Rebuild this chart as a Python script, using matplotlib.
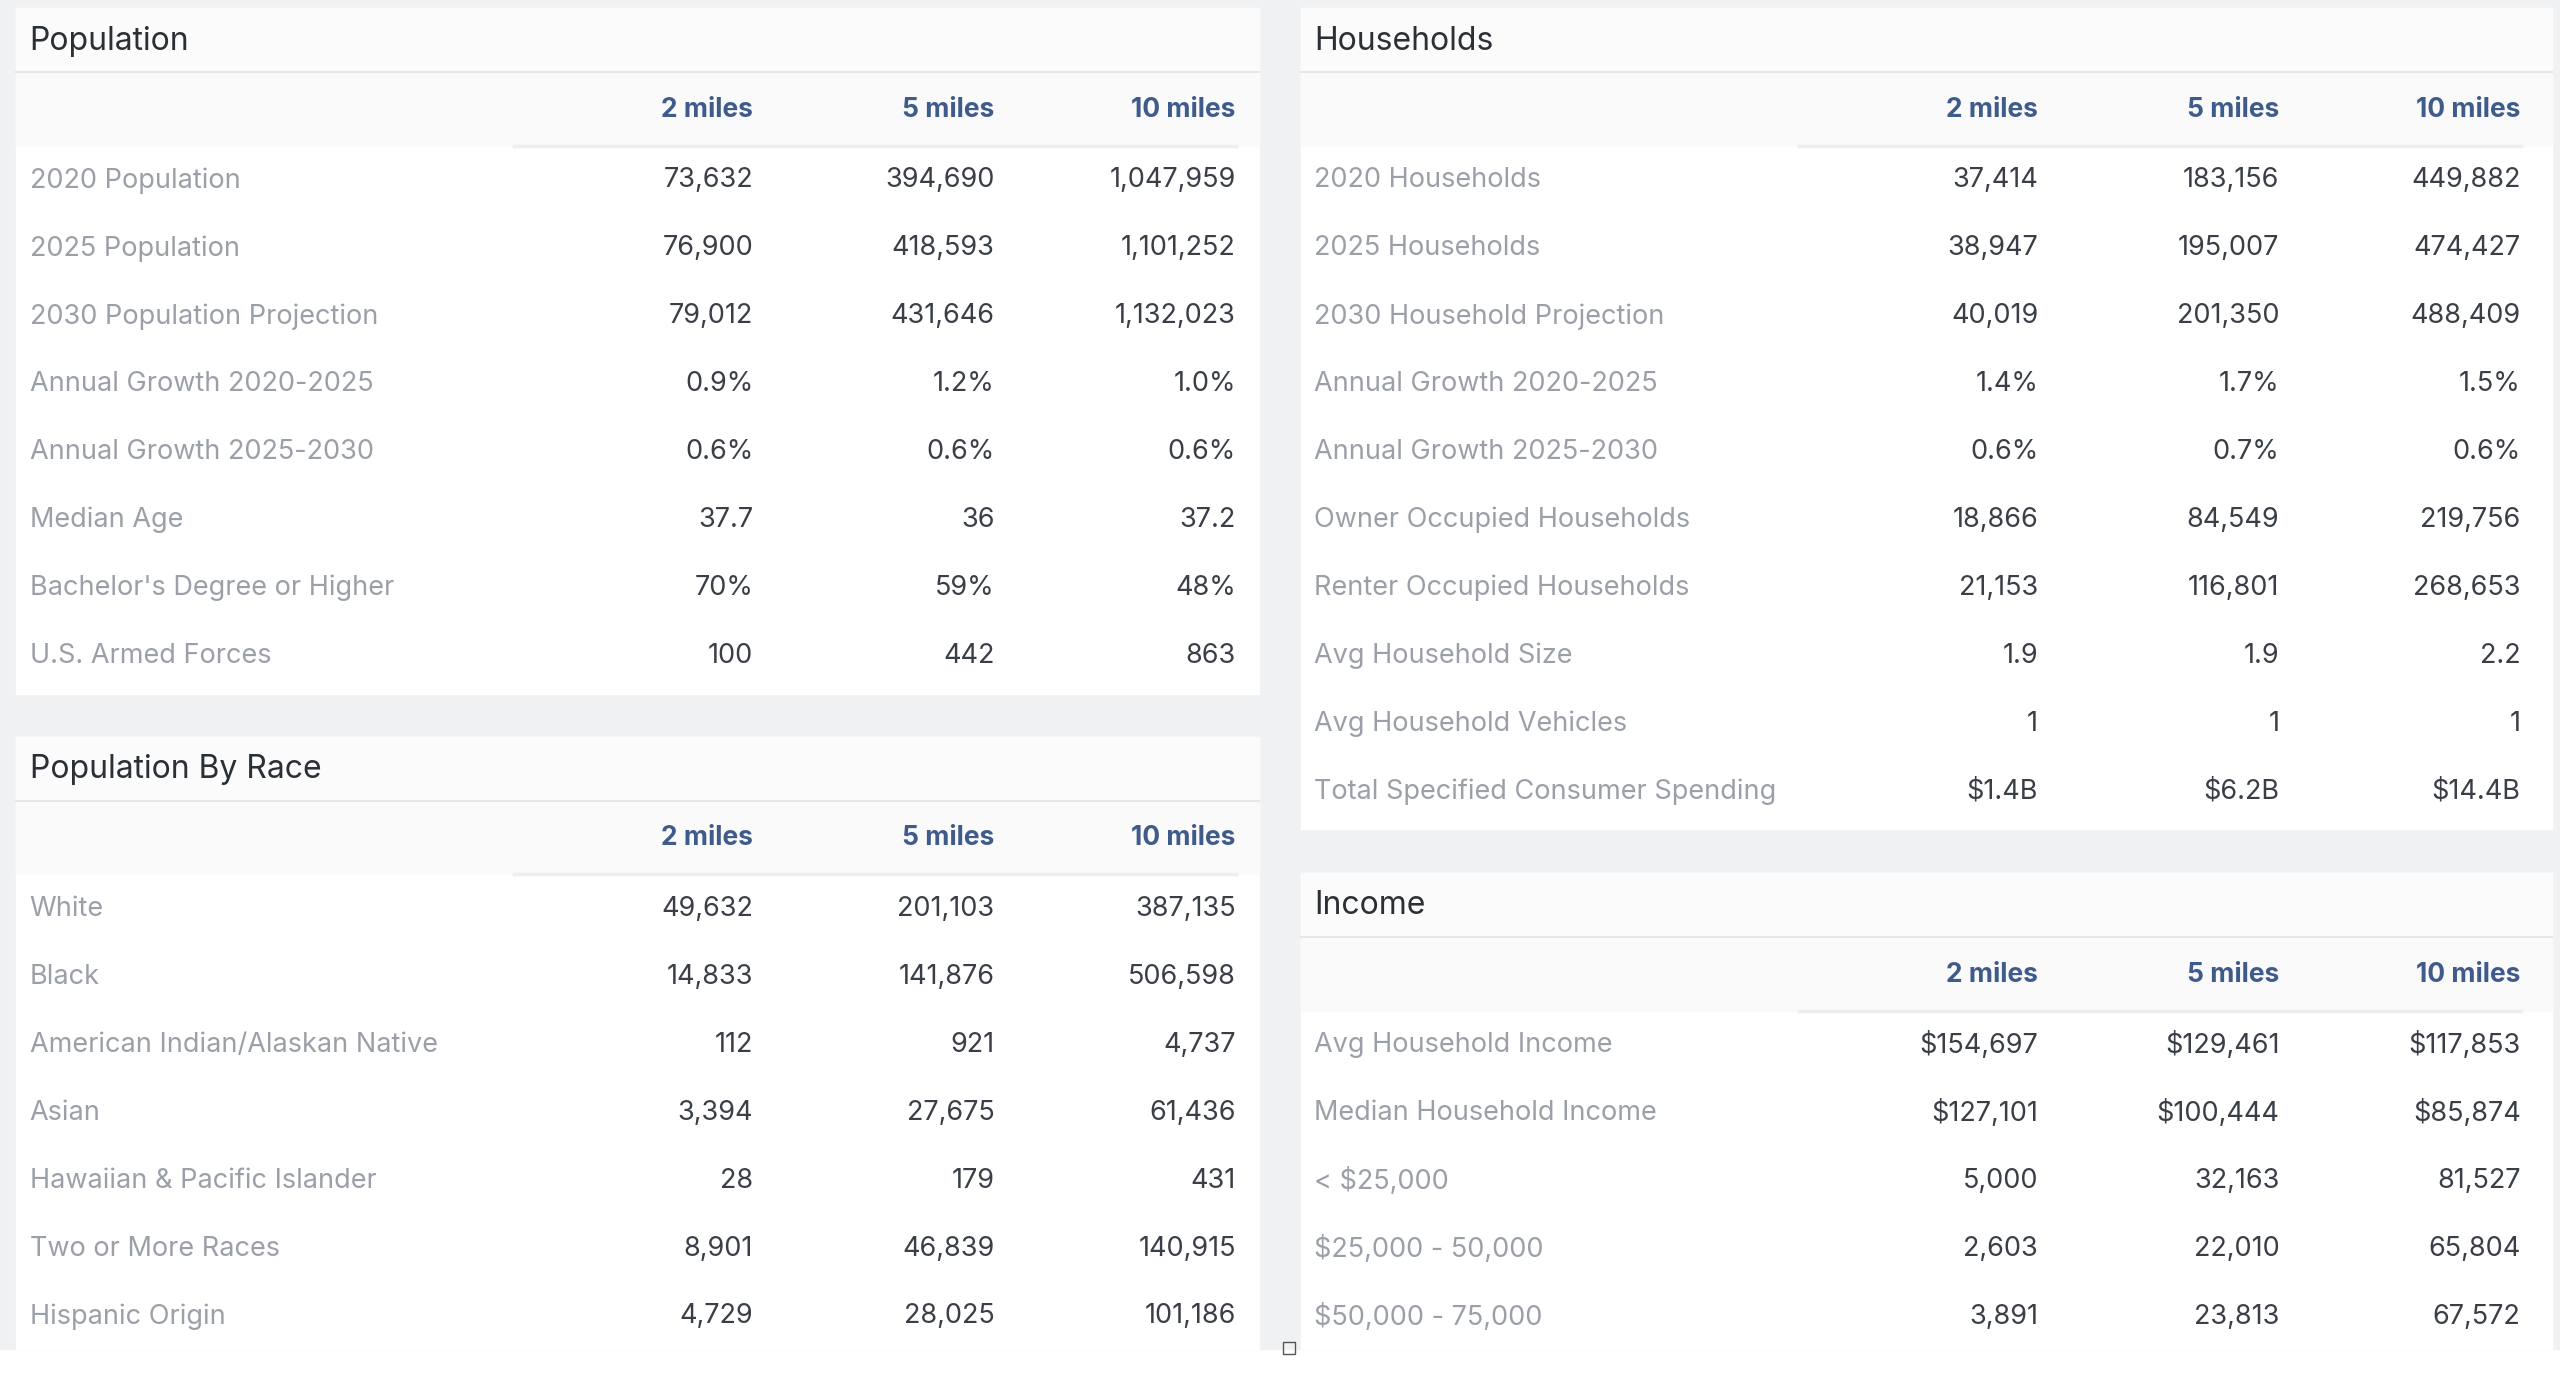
import matplotlib.pyplot as plt
from matplotlib.patches import Rectangle

plt.rcParams['font.family'] = ['Inter', 'DejaVu Sans']

columns = ['2 miles', '5 miles', '10 miles']

pop_labels = ['2020 Population', '2025 Population', '2030 Population Projection',
              'Annual Growth 2020-2025', 'Annual Growth 2025-2030', 'Median Age',
              "Bachelor's Degree or Higher", 'U.S. Armed Forces']
pop_values = [['73,632', '394,690', '1,047,959'],
              ['76,900', '418,593', '1,101,252'],
              ['79,012', '431,646', '1,132,023'],
              ['0.9%', '1.2%', '1.0%'],
              ['0.6%', '0.6%', '0.6%'],
              ['37.7', '36', '37.2'],
              ['70%', '59%', '48%'],
              ['100', '442', '863']]

race_labels = ['White', 'Black', 'American Indian/Alaskan Native', 'Asian',
               'Hawaiian & Pacific Islander', 'Two or More Races', 'Hispanic Origin']
race_values = [['49,632', '201,103', '387,135'],
               ['14,833', '141,876', '506,598'],
               ['112', '921', '4,737'],
               ['3,394', '27,675', '61,436'],
               ['28', '179', '431'],
               ['8,901', '46,839', '140,915'],
               ['4,729', '28,025', '101,186']]

hh_labels = ['2020 Households', '2025 Households', '2030 Household Projection',
             'Annual Growth 2020-2025', 'Annual Growth 2025-2030',
             'Owner Occupied Households', 'Renter Occupied Households',
             'Avg Household Size', 'Avg Household Vehicles',
             'Total Specified Consumer Spending']
hh_values = [['37,414', '183,156', '449,882'],
             ['38,947', '195,007', '474,427'],
             ['40,019', '201,350', '488,409'],
             ['1.4%', '1.7%', '1.5%'],
             ['0.6%', '0.7%', '0.6%'],
             ['18,866', '84,549', '219,756'],
             ['21,153', '116,801', '268,653'],
             ['1.9', '1.9', '2.2'],
             ['1', '1', '1'],
             ['$1.4B', '$6.2B', '$14.4B']]

inc_labels = ['Avg Household Income', 'Median Household Income', '< $25,000',
              '$25,000 - 50,000', '$50,000 - 75,000']
inc_values = [['$154,697', '$129,461', '$117,853'],
              ['$127,101', '$100,444', '$85,874'],
              ['5,000', '32,163', '81,527'],
              ['2,603', '22,010', '65,804'],
              ['3,891', '23,813', '67,572']]

W, H = 1560, 846
fig = plt.figure(figsize=(25.6, 13.88), dpi=100)
ax = fig.add_axes([0, 0, 1, 1])
ax.set_xlim(0, W)
ax.set_ylim(H, 0)
ax.axis('off')

ax.add_patch(Rectangle((0, 0), W, 822, color='#f0f1f3', zorder=0))

TITLE = '#2b2f36'
HEAD = '#3f5b8c'
LABEL = '#9ba0a8'
VALUE = '#3a3f47'
STEP = 41.4


def panel(x0, x1, y0, y1, title, labels, values):
    ax.add_patch(Rectangle((x0, y0), x1 - x0, y1 - y0, color='white', zorder=1))
    ax.add_patch(Rectangle((x0, y0), x1 - x0, 39, color='#fbfbfc', zorder=1))
    ax.add_patch(Rectangle((x0, y0 + 39), x1 - x0, 45, color='#fafafb', zorder=1))
    ax.plot([x0, x1], [y0 + 39, y0 + 39], color='#e4e6e9', lw=1.5, zorder=2)
    ax.text(x0 + 8, y0 + 20, title, fontsize=23, color=TITLE, va='center', zorder=3)
    col_x = [x0 + 449, x0 + 596, x0 + 743]
    ax.plot([x0 + 303, x0 + 743], [y0 + 84, y0 + 84], color='#eceef0', lw=2.5, zorder=2)
    for cx, c in zip(col_x, columns):
        ax.text(cx, y0 + 62, c, fontsize=19, color=HEAD, fontweight='bold',
                ha='right', va='center', zorder=3)
    for i, (lab, row) in enumerate(zip(labels, values)):
        y = y0 + 105 + i * STEP
        ax.text(x0 + 8, y, lab, fontsize=19.5, color=LABEL, va='center', zorder=3)
        for cx, v in zip(col_x, row):
            ax.text(cx, y, v, fontsize=19.5, color=VALUE, ha='right', va='center', zorder=3)


panel(10, 767, 5, 423, 'Population', pop_labels, pop_values)
panel(10, 767, 449, 822, 'Population By Race', race_labels, race_values)
panel(793, 1555, 5, 505, 'Households', hh_labels, hh_values)
panel(793, 1555, 532, 822, 'Income', inc_labels, inc_values)

ax.add_patch(Rectangle((782, 818), 7, 7, fill=False, ec='#555555', lw=1, zorder=4))

fig.savefig('out.png', dpi=100)
